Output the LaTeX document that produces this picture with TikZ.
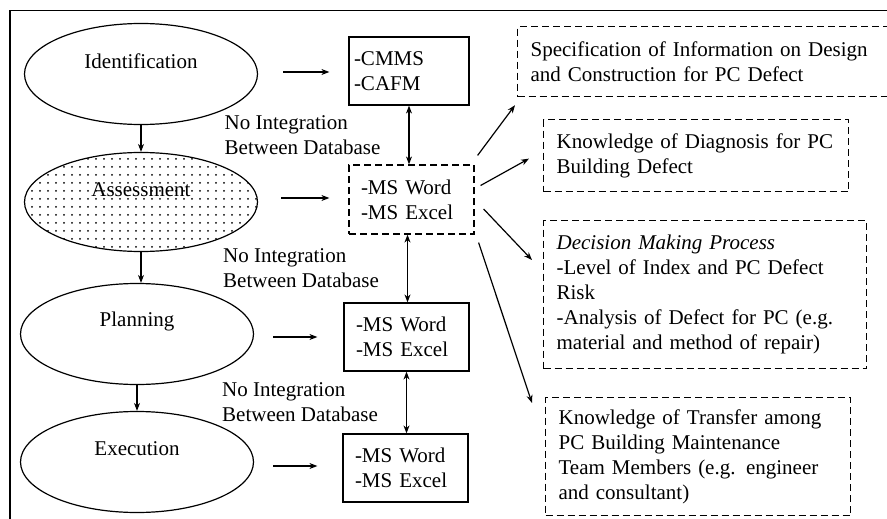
\documentclass[tikz,border=0pt]{standalone}
\usepackage{fontspec}
\setmainfont{Liberation Serif}
\usepackage{tikz}
\usetikzlibrary{shapes.geometric, arrows.meta, patterns.meta, positioning, calc}

\begin{document}
\begin{tikzpicture}[
    x=1pt, y=-1pt,
    font=\fontsize{21}{25}\selectfont,
    line width=1.2pt,
    phase/.style={ellipse, draw, minimum width=233pt, minimum height=101pt, inner sep=0pt},
    phasetext/.style={yshift=13pt, inner sep=0pt},
    tool/.style={rectangle, draw, align=left, inner ysep=4pt, minimum height=68pt},
    outcome/.style={rectangle, draw, dashed, dash pattern=on 7pt off 4pt, align=left, inner xsep=13pt, inner ysep=6pt},
    arrow/.style={-{Stealth[length=8pt,width=6pt]}},
    biarrow/.style={{Stealth[length=8pt,width=6pt]}-{Stealth[length=8pt,width=6pt]}},
    gaplabel/.style={left=28pt, align=left, inner sep=0pt}
]
\useasboundingbox (0,0) rectangle (887,519);

% ramka
\draw (10,10.5) -- (920,10.5);
\draw (10,10.5) -- (10,540);

% etapy utrzymania
\node [phase, label={[phasetext]center:Identification}] (ident) at (141,74) {};
\node [phase, minimum height=99pt, pattern={Dots[distance=8pt, radius=1pt]}, pattern color=black,
       label={[phasetext, yshift=-1pt]center:Assessment}] (assess) at (141,202) {};
\node [phase, label={[phasetext]center:Planning}] (plan) at (137,334) {};
\node [phase, label={[phasetext]center:Execution}] (exec) at (137,462) {};

% narzedzia
\node [tool, text width=110pt, inner xsep=5pt] (cmms) at (409,71) {-CMMS\\-CAFM};
\node [tool, dashed, dash pattern=on 7pt off 4pt, text width=101pt, inner xsep=12pt, minimum height=69pt] (word1) at (411.5,199.5) {-MS Word\\-MS Excel};
\node [tool, text width=101pt, inner xsep=12pt] (word2) at (406.5,337) {-MS Word\\-MS Excel};
\node [tool, text width=101pt, inner xsep=12pt] (word3) at (405.5,468) {-MS Word\\-MS Excel};

% wymagania
\node [outcome, anchor=north west, text width=356pt, minimum height=70pt] (spec) at (517,26)
    {Specification of Information on Design\\and Construction for PC Defect};
\node [outcome, anchor=north west, text width=279pt, minimum height=72pt] (diag) at (543,119)
    {Knowledge of Diagnosis for PC\\Building Defect};
\node [outcome, anchor=north west, text width=297pt, minimum height=148pt] (decision) at (543,220)
    {\textit{Decision Making Process}\\-Level of Index and PC Defect\\Risk\\-Analysis of Defect for PC (e.g.\\material and method of repair)};
\node [outcome, anchor=north west, text width=279pt, minimum height=118pt] (transfer) at (545,397)
    {Knowledge of Transfer among\\PC Building Maintenance\\Team Members (e.g. engineer\\and consultant)};

% kolejnosc etapow
\draw [arrow] (ident.south) -- (ident.south |- assess.north);
\draw [arrow] (assess.south) -- (assess.south |- plan.north);
\draw [arrow] (plan.south) -- (plan.south |- exec.north);

% etap -> narzedzie
\draw [arrow, shorten <=25pt, shorten >=19pt] ([yshift=2pt]ident.east) -- ([yshift=2pt]ident.east -| cmms.west);
\draw [arrow, shorten <=23pt, shorten >=19pt] ([yshift=4pt]assess.east) -- ([yshift=4pt]assess.east -| word1.west);
\draw [arrow, shorten <=19pt, shorten >=26pt] ([yshift=-3pt]plan.east) -- ([yshift=-3pt]plan.east -| word2.west);
\draw [arrow, shorten <=19pt, shorten >=25pt] ([yshift=-4pt]exec.east) -- ([yshift=-4pt]exec.east -| word3.west);

% brak integracji
\draw [biarrow] (cmms.south) -- node[gaplabel] {No Integration\\Between Database} (cmms.south |- word1.north);
\draw [biarrow] ([xshift=-4pt]word1.south) -- node[gaplabel] {No Integration\\Between Database} ([xshift=-4pt]word1.south |- word2.north);
\draw [biarrow] (word2.south) -- node[gaplabel] {No Integration\\Between Database} (word2.south |- word3.north);

% narzedzie -> wymagania
\draw [arrow] ([xshift=3pt, yshift=9pt]word1.north east) -- ([xshift=-2pt, yshift=-8pt]spec.south west);
\draw [arrow] ([xshift=6pt, yshift=14pt]word1.east) -- ([xshift=-14pt, yshift=-3pt]diag.west);
\draw [arrow] ([xshift=9pt, yshift=-9.5pt]word1.east) -- ([xshift=-11pt, yshift=-40pt]decision.north west);
\draw [arrow] ([xshift=4pt, yshift=-8pt]word1.south east) -- ([xshift=-13pt, yshift=-6pt]transfer.north west);

\end{tikzpicture}
\end{document}
